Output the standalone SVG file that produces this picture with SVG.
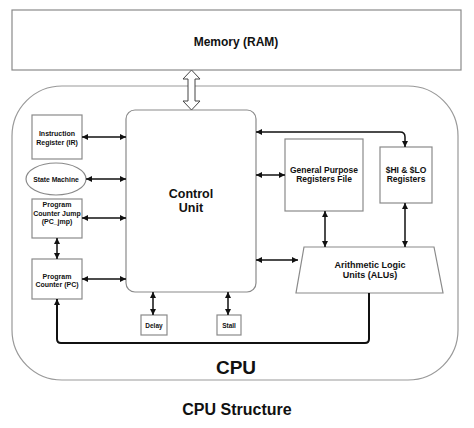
<svg xmlns="http://www.w3.org/2000/svg" width="474" height="428" viewBox="0 0 474 428">
<defs>
<style>
.box{fill:#fff;stroke:#8a8a8a;stroke-width:1.2}
.t{font-family:"Liberation Sans",Arial,sans-serif;font-weight:bold;fill:#111;text-anchor:middle}
.c{fill:none;stroke:#111;stroke-width:1.5}
.thick{fill:none;stroke:#111;stroke-width:2}
</style>
<marker id="ah" viewBox="0 0 10 10" refX="10" refY="5" markerWidth="7" markerHeight="6" markerUnits="userSpaceOnUse" orient="auto-start-reverse"><path d="M0,0 L10,5 L0,10 z" fill="#111"/></marker>
</defs>
<rect width="474" height="428" fill="#fff"/>
<g id="memory">
<rect class="box" x="12" y="10" width="449" height="60"/>
<text class="t" x="236" y="46" font-size="12">Memory (RAM)</text>
</g>
<g id="cpu">
<rect x="12" y="86" width="446" height="294" rx="50" fill="none" stroke="#999" stroke-width="1.2"/>
<text class="t" x="236" y="374" font-size="19">CPU</text>
</g>
<g id="control-unit">
<rect class="box" x="126" y="110" width="130" height="182" rx="9"/>
<text class="t" x="191" y="198" font-size="12.5">Control</text>
<text class="t" x="191" y="212" font-size="12.5">Unit</text>
</g>
<g id="ir">
<rect class="box" x="32" y="115" width="50" height="44"/>
<text class="t" x="57" y="136" font-size="7">Instruction</text>
<text class="t" x="57" y="145" font-size="7">Register (IR)</text>
</g>
<g id="state-machine">
<ellipse class="box" cx="56" cy="179" rx="30" ry="16"/>
<text class="t" x="56" y="181.5" font-size="6.8">State Machine</text>
</g>
<g id="pc-jmp">
<rect class="box" x="32" y="199" width="50" height="39"/>
<text class="t" x="57" y="207" font-size="7">Program</text>
<text class="t" x="57" y="215.5" font-size="7">Counter Jump</text>
<text class="t" x="57" y="224" font-size="7">(PC_jmp)</text>
</g>
<g id="pc">
<rect class="box" x="32" y="259" width="50" height="40"/>
<text class="t" x="57" y="278.5" font-size="7">Program</text>
<text class="t" x="57" y="287" font-size="7">Counter (PC)</text>
</g>
<g id="delay">
<rect class="box" x="141" y="315" width="26" height="20"/>
<text class="t" x="154" y="327.5" font-size="6.5">Delay</text>
</g>
<g id="stall">
<rect class="box" x="217" y="315" width="24" height="20"/>
<text class="t" x="229" y="327.5" font-size="6.5">Stall</text>
</g>
<g id="gpr">
<rect class="box" x="285" y="139" width="78" height="72"/>
<text class="t" x="324" y="173" font-size="8.5">General Purpose</text>
<text class="t" x="324" y="182" font-size="8.5">Registers File</text>
</g>
<g id="hilo">
<rect class="box" x="380" y="147" width="52" height="56"/>
<text class="t" x="406" y="173" font-size="8.5">$HI &amp; $LO</text>
<text class="t" x="406" y="182" font-size="8.5">Registers</text>
</g>
<g id="alu">
<polygon class="box" points="304,247 434,247 443,293 296,293"/>
<text class="t" x="370" y="268" font-size="9">Arithmetic Logic</text>
<text class="t" x="370" y="277.5" font-size="9">Units (ALUs)</text>
</g>
<g id="connectors">
<polygon points="191.5,70 200,79 195,79 195,101 200,101 191.5,110 183,101 188,101 188,79 183,79" fill="#fff" stroke="#444" stroke-width="1"/>
<line class="c" x1="82" y1="137" x2="126" y2="137" marker-start="url(#ah)" marker-end="url(#ah)"/>
<line class="c" x1="86" y1="179" x2="126" y2="179" marker-start="url(#ah)" marker-end="url(#ah)"/>
<line class="c" x1="82" y1="218" x2="126" y2="218" marker-start="url(#ah)" marker-end="url(#ah)"/>
<line class="c" x1="82" y1="279" x2="126" y2="279" marker-start="url(#ah)" marker-end="url(#ah)"/>
<line class="c" x1="57" y1="238" x2="57" y2="259" marker-start="url(#ah)" marker-end="url(#ah)"/>
<line class="c" x1="153" y1="292" x2="153" y2="315" marker-start="url(#ah)" marker-end="url(#ah)"/>
<line class="c" x1="228" y1="292" x2="228" y2="315" marker-start="url(#ah)" marker-end="url(#ah)"/>
<path class="c" d="M256,132 H400 Q405,132 405,137 V147" marker-start="url(#ah)" marker-end="url(#ah)"/>
<line class="c" x1="256" y1="175" x2="285" y2="175" marker-start="url(#ah)" marker-end="url(#ah)"/>
<line class="c" x1="256" y1="260" x2="298" y2="260" marker-start="url(#ah)" marker-end="url(#ah)"/>
<line class="c" x1="325" y1="211" x2="325" y2="247" marker-start="url(#ah)" marker-end="url(#ah)"/>
<line class="c" x1="405" y1="203" x2="405" y2="247" marker-start="url(#ah)" marker-end="url(#ah)"/>
<path class="thick" d="M369,293 V339 Q369,343 365,343 H61 Q57,343 57,339 V299" marker-end="url(#ah)"/>
</g>
<text class="t" x="237" y="415" font-size="16">CPU Structure</text>
</svg>
